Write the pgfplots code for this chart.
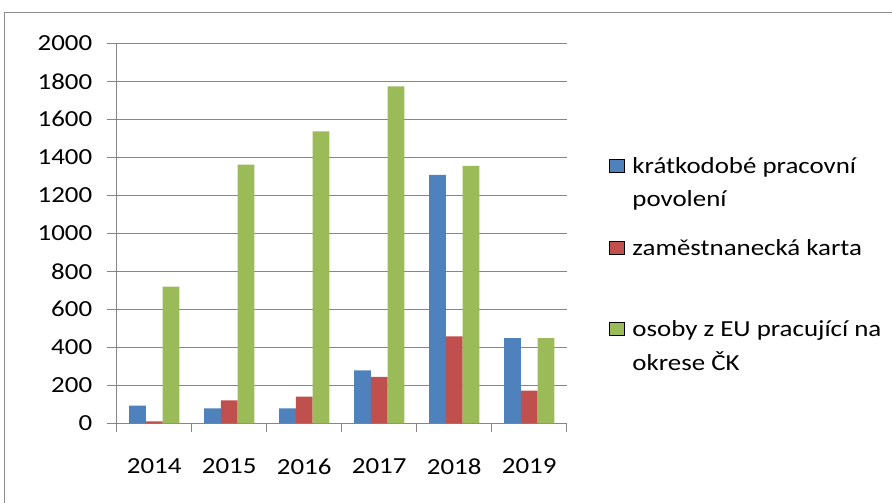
\documentclass[border=0pt]{standalone}
\usepackage{pgfplots}
\pgfplotsset{compat=1.18}
\usepackage{fontspec}
\setmainfont{Carlito}[FakeStretch=1.17]
\definecolor{cblue}{RGB}{79,129,189}
\definecolor{cred}{RGB}{192,80,77}
\definecolor{cgreen}{RGB}{155,187,89}
\definecolor{gridgray}{RGB}{134,134,134}
\definecolor{bordergray}{RGB}{140,140,140}
\newcommand{\lstrut}[1]{\rule{0pt}{#1}}
\begin{document}
\begin{tikzpicture}
\useasboundingbox (0pt,0pt) rectangle (892pt,-503pt);
\draw[bordergray, line width=1.5pt] (4.5pt,-12.5pt) rectangle (960pt,-560pt);
\begin{axis}[
  at={(116.7pt,-423.3pt)}, anchor=south west,
  scale only axis, width=450pt, height=380pt,
  ymin=0, ymax=2000, ytick={0,200,...,2000},
  xmin=-0.5, xmax=5.5, xtick={0,...,5},
  xticklabels={2014,2015,2016,2017,2018,2019},
  minor xtick={-0.5,0.5,...,5.5},
  axis x line*=bottom, axis y line*=left,
  ymajorgrids, grid style={gridgray, line width=1pt},
  axis line style={gridgray, line width=1pt},
  tick style={gridgray, line width=1pt},
  major x tick style={draw=none},
  tick align=outside, major tick length=10pt, minor tick length=9pt,
  /pgf/number format/1000 sep={},
  /pgf/number format/assume math mode=true,
  ticklabel style={font=\fontsize{23}{27.6}\selectfont, text=black},
  yticklabel style={anchor=east, xshift=-11pt},
  xticklabel style={yshift=-22pt},
  ybar=0pt, bar width=16.7pt,
  legend style={draw=none, fill=none, at={(1.0947,0.7159)}, anchor=north west,
    inner sep=0pt, outer sep=0pt, row sep=0pt, column sep=7.7pt,
    font=\fontsize{23}{31.5}\selectfont, nodes={inner sep=0pt, outer sep=0pt}},
  legend cell align=left,
  legend style={cells={anchor=base west}},
  legend image code/.code={\fill[#1] (0pt,1.3pt) rectangle (15pt,14.3pt);},
]
\addplot[forget plot, bar shift=-16.7pt, fill=cblue, draw=none] coordinates {(0,93) (1,79) (2,79) (3,279) (4,1308) (5,448)};
\addplot[forget plot, bar shift=0pt, fill=cred, draw=none] coordinates {(0,10) (1,121) (2,140) (3,244) (4,457) (5,172)};
\addplot[forget plot, bar shift=16.7pt, fill=cgreen, draw=none] coordinates {(0,719) (1,1361) (2,1537) (3,1773) (4,1355) (5,448)};
\addlegendimage{fill=cblue}
\addlegendentry{\lstrut{22.05pt}krátkodobé pracovní}
\addlegendimage{empty legend}
\addlegendentry{\lstrut{31.5pt}povolení}
\addlegendimage{fill=cred}
\addlegendentry{\lstrut{47.8pt}zaměstnanecká karta}
\addlegendimage{fill=cgreen}
\addlegendentry{\lstrut{79.7pt}osoby z EU pracující na}
\addlegendimage{empty legend}
\addlegendentry{\lstrut{32pt}okrese ČK}
\end{axis}
\end{tikzpicture}
\end{document}
